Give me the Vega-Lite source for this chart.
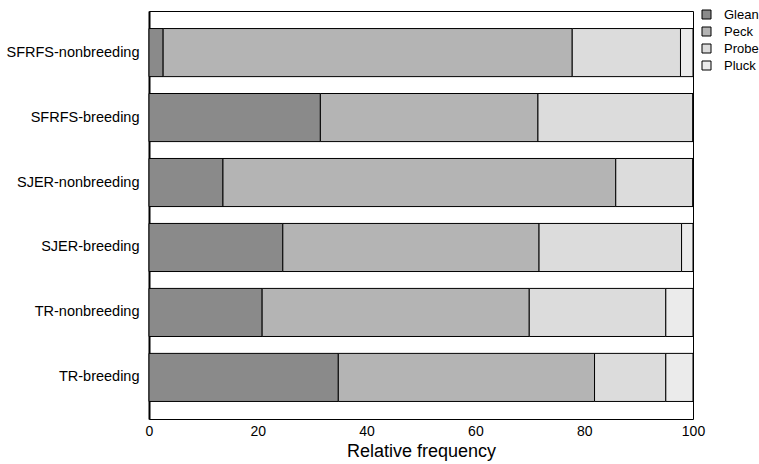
{
  "$schema": "https://vega.github.io/schema/vega-lite/v6.json",
  "width": 544,
  "height": 408,
  "autosize": {"type": "none"},
  "padding": {"left": 149, "top": 11, "right": 66, "bottom": 45},
  "background": "white",
  "config": {
    "font": "Liberation Sans",
    "view": {"stroke": "#000", "strokeWidth": 1}
  },
  "data": {
    "values": [
      {"site": "SFRFS-nonbreeding", "method": "Glean", "rank": 1, "freq": 2.6},
      {"site": "SFRFS-nonbreeding", "method": "Peck", "rank": 2, "freq": 75.2},
      {"site": "SFRFS-nonbreeding", "method": "Probe", "rank": 3, "freq": 19.9},
      {"site": "SFRFS-nonbreeding", "method": "Pluck", "rank": 4, "freq": 2.3},
      {"site": "SFRFS-breeding", "method": "Glean", "rank": 1, "freq": 31.5},
      {"site": "SFRFS-breeding", "method": "Peck", "rank": 2, "freq": 40.0},
      {"site": "SFRFS-breeding", "method": "Probe", "rank": 3, "freq": 28.5},
      {"site": "SFRFS-breeding", "method": "Pluck", "rank": 4, "freq": 0},
      {"site": "SJER-nonbreeding", "method": "Glean", "rank": 1, "freq": 13.6},
      {"site": "SJER-nonbreeding", "method": "Peck", "rank": 2, "freq": 72.2},
      {"site": "SJER-nonbreeding", "method": "Probe", "rank": 3, "freq": 14.2},
      {"site": "SJER-nonbreeding", "method": "Pluck", "rank": 4, "freq": 0},
      {"site": "SJER-breeding", "method": "Glean", "rank": 1, "freq": 24.6},
      {"site": "SJER-breeding", "method": "Peck", "rank": 2, "freq": 47.1},
      {"site": "SJER-breeding", "method": "Probe", "rank": 3, "freq": 26.2},
      {"site": "SJER-breeding", "method": "Pluck", "rank": 4, "freq": 2.1},
      {"site": "TR-nonbreeding", "method": "Glean", "rank": 1, "freq": 20.8},
      {"site": "TR-nonbreeding", "method": "Peck", "rank": 2, "freq": 49.1},
      {"site": "TR-nonbreeding", "method": "Probe", "rank": 3, "freq": 25.1},
      {"site": "TR-nonbreeding", "method": "Pluck", "rank": 4, "freq": 5.0},
      {"site": "TR-breeding", "method": "Glean", "rank": 1, "freq": 34.8},
      {"site": "TR-breeding", "method": "Peck", "rank": 2, "freq": 47.1},
      {"site": "TR-breeding", "method": "Probe", "rank": 3, "freq": 13.1},
      {"site": "TR-breeding", "method": "Pluck", "rank": 4, "freq": 5.0}
    ]
  },
  "mark": {"type": "bar", "stroke": "#000", "strokeWidth": 1},
  "encoding": {
    "y": {
      "field": "site",
      "type": "nominal",
      "sort": ["SFRFS-nonbreeding", "SFRFS-breeding", "SJER-nonbreeding", "SJER-breeding", "TR-nonbreeding", "TR-breeding"],
      "scale": {"paddingInner": 0.26, "paddingOuter": 0.27},
      "axis": {
        "title": null,
        "ticks": false,
        "domain": true,
        "domainColor": "#000",
        "domainWidth": 2,
        "labelFont": "Liberation Sans",
        "labelFontSize": 14.5,
        "labelColor": "#000",
        "labelPadding": 10
      }
    },
    "x": {
      "field": "freq",
      "type": "quantitative",
      "stack": "zero",
      "scale": {"domain": [0, 100], "nice": false},
      "axis": {
        "title": "Relative frequency",
        "titleFont": "Liberation Sans",
        "titleFontSize": 18,
        "titleFontWeight": "normal",
        "titleColor": "#000",
        "titlePadding": 4,
        "values": [0, 20, 40, 60, 80, 100],
        "grid": false,
        "ticks": false,
        "domain": false,
        "labelFont": "Liberation Sans",
        "labelFontSize": 14,
        "labelColor": "#000",
        "labelPadding": 5,
        "labelFlush": false
      }
    },
    "order": {"field": "rank", "type": "quantitative", "sort": "ascending"},
    "color": {
      "field": "method",
      "type": "nominal",
      "sort": ["Glean", "Peck", "Probe", "Pluck"],
      "scale": {
        "domain": ["Glean", "Peck", "Probe", "Pluck"],
        "range": ["#8a8a8a", "#b4b4b4", "#dcdcdc", "#ebebeb"]
      },
      "legend": {
        "title": null,
        "orient": "none",
        "legendX": 551,
        "legendY": -3,
        "padding": 0,
        "symbolType": "square",
        "symbolSize": 81,
        "symbolStrokeColor": "#000",
        "symbolStrokeWidth": 1,
        "labelFont": "Liberation Sans",
        "labelFontSize": 13,
        "labelColor": "#000",
        "labelOffset": 11,
        "rowPadding": 3
      }
    }
  }
}
